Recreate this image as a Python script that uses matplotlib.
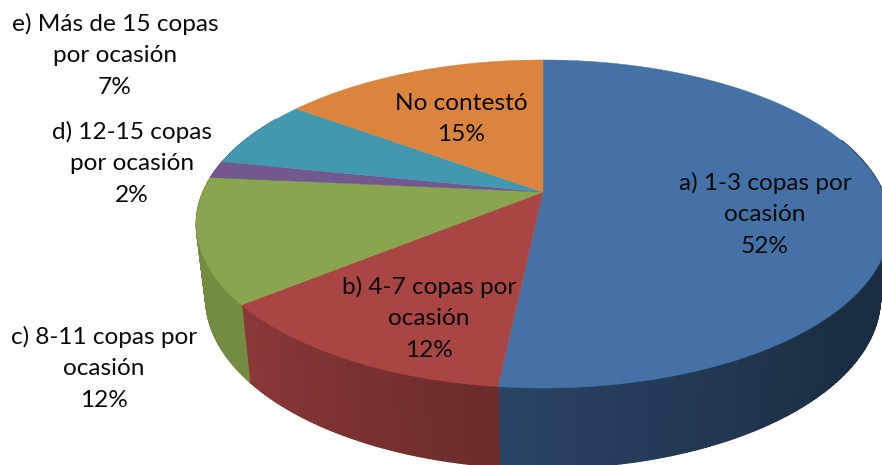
import numpy as np
import matplotlib
matplotlib.use("Agg")
import matplotlib.pyplot as plt

# valores (angulos reales) y etiquetas impresas
categorias = ["a) 1-3 copas por\nocasión", "b) 4-7 copas por\nocasión", "c) 8-11 copas por\nocasión",
              "d) 12-15 copas\npor ocasión", "e) Más de 15 copas\npor ocasión", "No contestó"]
valores = [51.7, 12.5, 12.3, 1.7, 6.8, 15.0]
porcentajes = ["52%", "12%", "12%", "2%", "7%", "15%"]
colores = ["#4471A6", "#A94543", "#89A54E", "#71588F", "#4198AF", "#DB843D"]

# posicion central de cada etiqueta, en pixeles
pos_etiquetas = [(765, 214), (429, 318), (104, 368), (132, 163), (115, 55), (461, 119)]

plt.rcParams["font.family"] = ["Lato", "DejaVu Sans"]

# centro del pastel y perspectiva
cx, cy = 543, 192
rx, ry, k = 340, 157.8, 0.195


def tapa(ang):
    # ang en grados, sentido horario desde las 12
    t = np.radians(90 - np.asarray(ang, dtype=float))
    s = 1 / (1 + k * np.sin(t))
    return cx + rx * np.cos(t) * s, cy - ry * np.sin(t) * s


def base(x, y):
    return cx + 0.973 * (x - cx), 264.5 + 1.04 * (y - cy)


def brillo(ang):
    # sombreado de la pared lateral segun el angulo
    return np.interp(ang, [90, 130, 186, 186.01, 231, 231.01, 280], [0.40, 0.40, 0.60, 0.63, 0.82, 0.85, 0.85])


fig = plt.figure(figsize=(8.82, 4.65), dpi=100)
ax = fig.add_axes([0, 0, 1, 1])
ax.set_xlim(0, 882)
ax.set_ylim(465, 0)
ax.axis("off")

cortes = np.concatenate([[0], np.cumsum(valores)]) * 3.6

# paredes laterales
for i in range(len(valores)):
    rgb = np.array(matplotlib.colors.to_rgb(colores[i]))
    a0, a1 = cortes[i], cortes[i + 1]
    n = max(int((a1 - a0) * 2), 1)
    malla = np.linspace(a0, a1, n + 1)
    for j in range(n):
        if malla[j + 1] < 70 or malla[j] > 300:
            continue
        xa, ya = tapa(np.linspace(malla[j], malla[j + 1], 3))
        xb, yb = base(xa, ya)
        c = np.clip(rgb * brillo((malla[j] + malla[j + 1]) / 2), 0, 1)
        ax.fill(np.r_[xa, xb[::-1]], np.r_[ya, yb[::-1]], color=c, lw=1.0)

# tapa superior
for i in range(len(valores)):
    angs = np.linspace(cortes[i], cortes[i + 1], 200)
    xs, ys = tapa(angs)
    ax.fill(np.r_[cx, xs], np.r_[cy, ys], color=colores[i], lw=0.3)

# etiquetas
for nombre, pct, (x, y) in zip(categorias, porcentajes, pos_etiquetas):
    ax.text(x, y, nombre + "\n" + pct, ha="center", va="center", fontsize=17.6,
            linespacing=1.62, color="#0a0a0a")

fig.savefig("out.png", dpi=100)
